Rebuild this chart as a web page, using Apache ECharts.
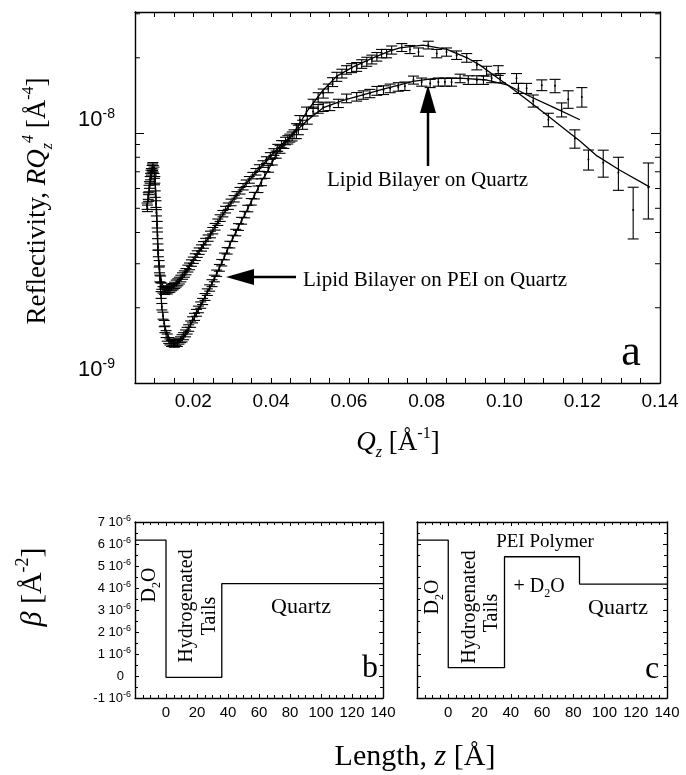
<!DOCTYPE html>
<html>
<head>
<meta charset="utf-8">
<script src="https://cdn.jsdelivr.net/npm/echarts@6/dist/echarts.min.js"></script>
<style>
  html, body { margin: 0; padding: 0; background: #fff; }
  #chart { width: 686px; height: 775px; }
</style>
</head>
<body>
<div id="chart"></div>
<script>
// ---- Reflectivity data: [Qz (1/Å), R·Qz^4 (1e-9 Å^-4), error (1e-9 Å^-4)] ----
const peiOnQuartz = [
  [0.0081, 5.1, 0.15], [0.0084, 5.6, 0.17], [0.0086, 6.0, 0.18], [0.0089, 6.5, 0.2],
  [0.0091, 6.9, 0.2], [0.0094, 7.2, 0.22], [0.0096, 7.4, 0.22], [0.0099, 7.1, 0.21],
  [0.0101, 6.5, 0.2], [0.0104, 5.2, 0.16], [0.0107, 4.3, 0.13], [0.0109, 3.5, 0.1],
  [0.0112, 3.0, 0.09], [0.0114, 2.62, 0.08], [0.0117, 2.25, 0.07], [0.0119, 2.02, 0.06],
  [0.0122, 1.86, 0.06], [0.0125, 1.73, 0.05], [0.0127, 1.64, 0.05], [0.0130, 1.57, 0.05],
  [0.0133, 1.52, 0.05], [0.0137, 1.48, 0.04], [0.0140, 1.46, 0.04], [0.0144, 1.44, 0.04],
  [0.0148, 1.45, 0.04], [0.0151, 1.43, 0.04], [0.0155, 1.45, 0.04], [0.0159, 1.44, 0.04],
  [0.0163, 1.47, 0.04], [0.0167, 1.49, 0.04], [0.0171, 1.51, 0.05], [0.0175, 1.54, 0.05],
  [0.0180, 1.58, 0.05], [0.0184, 1.62, 0.05], [0.0188, 1.66, 0.05], [0.0193, 1.72, 0.05],
  [0.0198, 1.79, 0.05], [0.0203, 1.84, 0.06], [0.0208, 1.91, 0.06], [0.0213, 1.97, 0.06],
  [0.0219, 2.05, 0.06], [0.0224, 2.12, 0.06], [0.0230, 2.21, 0.07], [0.0236, 2.31, 0.07],
  [0.0242, 2.40, 0.07], [0.0248, 2.51, 0.08], [0.0254, 2.62, 0.08], [0.0260, 2.75, 0.08],
  [0.0267, 2.89, 0.09], [0.0273, 3.03, 0.09], [0.0280, 3.21, 0.1], [0.0287, 3.38, 0.1],
  [0.0294, 3.58, 0.11], [0.0301, 3.79, 0.11], [0.0309, 4.0, 0.12], [0.0316, 4.21, 0.13],
  [0.0324, 4.46, 0.14], [0.0332, 4.72, 0.14], [0.0340, 4.99, 0.15], [0.0349, 5.31, 0.16],
  [0.0357, 5.62, 0.17], [0.0366, 5.96, 0.18], [0.0375, 6.36, 0.2], [0.0384, 6.8, 0.21],
  [0.0393, 7.2, 0.23], [0.0403, 7.7, 0.25], [0.0413, 8.2, 0.27], [0.0423, 8.6, 0.3],
  [0.0433, 9.0, 0.32], [0.0443, 9.4, 0.36], [0.0454, 9.7, 0.4], [0.0465, 10.2, 0.7],
  [0.0474, 11.3, 0.45], [0.0491, 12.2, 0.5], [0.0508, 13.1, 0.55], [0.0521, 13.9, 0.6],
  [0.0534, 14.4, 0.6], [0.0547, 15.1, 0.6], [0.0558, 16.0, 0.65], [0.0569, 16.8, 0.7],
  [0.0582, 17.3, 0.7], [0.0594, 17.9, 0.7], [0.0607, 18.2, 0.75], [0.0620, 18.4, 0.75],
  [0.0633, 18.9, 0.75], [0.0646, 19.3, 0.8], [0.0659, 19.7, 0.8], [0.0672, 20.2, 0.8],
  [0.0684, 20.8, 0.8], [0.0697, 20.8, 0.8], [0.0710, 21.5, 0.8], [0.0736, 22.0, 0.8],
  [0.0757, 21.6, 0.8], [0.0779, 21.1, 0.8], [0.0804, 22.5, 0.8], [0.0826, 20.8, 0.8],
  [0.0851, 21.1, 0.8], [0.0877, 20.5, 0.8], [0.0903, 20.0, 0.8], [0.0929, 18.7, 0.8],
  [0.0954, 17.7, 0.8], [0.0984, 17.8, 0.8], [0.1036, 15.1, 0.7], [0.1074, 13.45, 0.75],
  [0.1113, 11.3, 0.7], [0.1147, 12.4, 0.8], [0.1181, 9.5, 0.8], [0.1216, 7.83, 0.72],
  [0.1254, 7.6, 0.94], [0.1293, 6.95, 1.05], [0.1331, 4.92, 1.15], [0.1370, 6.06, 1.53]
];

const bilayerOnQuartz = [
  [0.0082, 5.0, 0.15], [0.0085, 5.5, 0.17], [0.0087, 6.2, 0.19], [0.0090, 6.7, 0.2],
  [0.0092, 7.0, 0.21], [0.0095, 7.3, 0.22], [0.0097, 7.2, 0.22], [0.0100, 6.4, 0.19],
  [0.0102, 5.7, 0.17], [0.0105, 4.8, 0.14], [0.0108, 3.9, 0.12], [0.0110, 3.3, 0.1],
  [0.0113, 2.85, 0.09], [0.0116, 2.6, 0.08], [0.0119, 2.44, 0.07], [0.0122, 2.36, 0.07],
  [0.0126, 2.33, 0.07], [0.0129, 2.36, 0.07], [0.0133, 2.34, 0.07], [0.0137, 2.37, 0.07],
  [0.0140, 2.38, 0.07], [0.0144, 2.41, 0.07], [0.0148, 2.43, 0.07], [0.0152, 2.46, 0.07],
  [0.0156, 2.5, 0.08], [0.0160, 2.53, 0.08], [0.0164, 2.57, 0.08], [0.0168, 2.62, 0.08],
  [0.0172, 2.68, 0.08], [0.0177, 2.73, 0.08], [0.0181, 2.79, 0.08], [0.0186, 2.87, 0.09],
  [0.0190, 2.93, 0.09], [0.0195, 3.02, 0.09], [0.0200, 3.1, 0.09], [0.0205, 3.19, 0.1],
  [0.0210, 3.28, 0.1], [0.0215, 3.37, 0.1], [0.0221, 3.47, 0.1], [0.0226, 3.57, 0.11],
  [0.0232, 3.68, 0.11], [0.0238, 3.8, 0.11], [0.0244, 3.93, 0.12], [0.0250, 4.07, 0.12],
  [0.0256, 4.22, 0.13], [0.0263, 4.4, 0.13], [0.0269, 4.57, 0.14], [0.0276, 4.76, 0.14],
  [0.0283, 4.94, 0.15], [0.0290, 5.1, 0.15], [0.0297, 5.28, 0.16], [0.0305, 5.46, 0.16],
  [0.0312, 5.66, 0.17], [0.0320, 5.88, 0.18], [0.0328, 6.1, 0.18], [0.0336, 6.3, 0.19],
  [0.0344, 6.5, 0.2], [0.0353, 6.76, 0.2], [0.0361, 7.0, 0.21], [0.0370, 7.25, 0.22],
  [0.0379, 7.52, 0.23], [0.0388, 7.8, 0.24], [0.0398, 8.1, 0.25], [0.0407, 8.4, 0.26],
  [0.0417, 8.73, 0.28], [0.0427, 9.03, 0.3], [0.0437, 9.3, 0.32], [0.0448, 9.55, 0.35],
  [0.0459, 9.9, 0.4], [0.0470, 10.3, 0.45], [0.0481, 10.8, 0.45], [0.0493, 11.3, 0.45],
  [0.0508, 12.2, 0.5], [0.0521, 12.5, 0.5], [0.0534, 12.7, 0.5], [0.0551, 12.8, 0.5],
  [0.0573, 13.15, 0.5], [0.0594, 13.77, 0.55], [0.0620, 13.97, 0.55], [0.0637, 14.2, 0.55],
  [0.0654, 14.4, 0.55], [0.0672, 14.76, 0.6], [0.0689, 14.86, 0.6], [0.0706, 15.1, 0.6],
  [0.0727, 15.3, 0.6], [0.0744, 15.4, 0.6], [0.0766, 16.3, 0.6], [0.0787, 16.0, 0.6],
  [0.0809, 15.8, 0.6], [0.0830, 16.0, 0.6], [0.0847, 16.0, 0.6], [0.0864, 16.0, 0.6],
  [0.0886, 16.55, 0.65], [0.0907, 16.3, 0.65], [0.0929, 16.3, 0.65], [0.0946, 16.3, 0.65],
  [0.0967, 16.55, 0.65], [0.0989, 16.6, 0.7], [0.1031, 16.55, 0.75], [0.1057, 15.1, 0.7],
  [0.1096, 15.55, 0.77], [0.1130, 15.45, 0.95], [0.1164, 13.66, 1.1], [0.1199, 13.95, 1.25]
];

// ---- Model fits: [Qz, R·Qz^4 (1e-9 Å^-4)] ----
const peiFit = [
  [0.0081, 5.15], [0.0089, 6.3], [0.0094, 7.1], [0.0097, 7.45], [0.0100, 7.2], [0.0104, 5.5],
  [0.0107, 4.2], [0.0109, 3.3], [0.0114, 2.62], [0.0119, 2.0], [0.0127, 1.67], [0.0140, 1.49],
  [0.0153, 1.445], [0.0171, 1.49], [0.0186, 1.63], [0.0209, 1.91], [0.0235, 2.29], [0.0256, 2.65],
  [0.0276, 3.1], [0.0299, 3.73], [0.0325, 4.49], [0.0351, 5.4], [0.0377, 6.49], [0.0389, 6.95],
  [0.0415, 8.3], [0.0441, 9.3], [0.0467, 10.5], [0.0492, 12.2], [0.0533, 14.8], [0.0569, 16.9],
  [0.0611, 18.4], [0.0662, 20.0], [0.0706, 21.3], [0.0731, 21.9], [0.0791, 22.5], [0.0852, 21.6],
  [0.0904, 20.0], [0.0937, 18.7], [0.0971, 17.1], [0.1007, 15.6], [0.1058, 13.6], [0.1109, 11.8],
  [0.1161, 10.2], [0.1194, 9.3], [0.1238, 8.1], [0.1297, 7.1], [0.1374, 6.08]
];
const quartzFit = [
  [0.0081, 5.05], [0.0089, 6.3], [0.0094, 7.1], [0.0097, 7.45], [0.0100, 7.2], [0.0104, 5.5],
  [0.0107, 4.2], [0.0109, 3.4], [0.0114, 2.75], [0.0120, 2.48], [0.0132, 2.38], [0.0148, 2.42],
  [0.0166, 2.58], [0.0184, 2.83], [0.0199, 3.1], [0.0217, 3.4], [0.0235, 3.73], [0.0251, 4.09],
  [0.0269, 4.55], [0.0287, 5.0], [0.0302, 5.4], [0.0325, 6.0], [0.0346, 6.55], [0.0364, 7.05],
  [0.0405, 8.3], [0.0431, 9.1], [0.0456, 9.9], [0.0492, 11.2], [0.0533, 12.6], [0.0585, 13.5],
  [0.0636, 14.2], [0.0688, 15.0], [0.0731, 15.6], [0.0765, 16.1], [0.0816, 16.5], [0.0886, 16.6],
  [0.0955, 16.3], [0.1007, 15.6], [0.1066, 14.0], [0.1125, 12.7], [0.1194, 11.3]
];

// ---- Scattering length density profiles (SLD in 1e-6 Å^-2, z in Å) ----
const zBilayer = [-20, 0, 36, 140];
const sldBilayer = [6.18, -0.06, 4.2, 4.2];
const zCushion = [-20, 0, 36, 84, 140];
const sldCushion = [6.18, 0.38, 5.42, 4.18, 4.18];

// ---- Axis extents and tick values ----
const qRange = [0.005, 0.14];
const rRange = [1e-9, 3.05e-8];
const R_UNIT = 1e-9;
const rMinorTicks = [2, 3, 4, 5, 6, 7, 8, 9, 20, 30];
const zRange = [-20, 140];
const sldRange = [-1, 7];

const SANS = '"Liberation Sans", Arial, Helvetica, sans-serif';
const SERIF = '"Liberation Serif", "Times New Roman", Times, serif';
const INK = '#000';

const chart = echarts.init(document.getElementById('chart'), null, { renderer: 'canvas' });

function errorBarItem(params, api) {
  const q = api.value(0), v = api.value(1), e = api.value(2);
  const c = api.coord([q, v]);
  const hi = api.coord([q, v + e]);
  const lo = api.coord([q, v - e]);
  const w = 5.5;
  const st = { stroke: INK, lineWidth: 1.1 };
  return {
    type: 'group',
    children: [
      { type: 'line', shape: { x1: c[0], y1: hi[1], x2: c[0], y2: lo[1] }, style: st },
      { type: 'line', shape: { x1: c[0] - w, y1: hi[1], x2: c[0] + w, y2: hi[1] }, style: st },
      { type: 'line', shape: { x1: c[0] - w, y1: lo[1], x2: c[0] + w, y2: lo[1] }, style: st },
      { type: 'circle', shape: { cx: c[0], cy: c[1], r: 1 }, style: { fill: INK } }
    ]
  };
}

function minorTickItem(params, api) {
  const v = api.value(1);
  const L = api.coord([qRange[0], v]);
  const R = api.coord([qRange[1], v]);
  const st = { stroke: INK, lineWidth: 1 };
  return {
    type: 'group',
    children: [
      { type: 'line', shape: { x1: L[0], y1: L[1], x2: L[0] + 5, y2: L[1] }, style: st },
      { type: 'line', shape: { x1: R[0] - 5, y1: R[1], x2: R[0], y2: R[1] }, style: st }
    ]
  };
}

const frameLine = { show: true, onZero: false, lineStyle: { color: INK, width: 1.4 } };

function qAxis(position, labels) {
  return {
    gridIndex: 0, type: 'value', position: position,
    min: qRange[0], max: qRange[1], interval: 0.005,
    axisLine: frameLine,
    axisTick: { show: true, inside: true, length: 5, lineStyle: { color: INK, width: 1 } },
    splitLine: { show: false },
    axisLabel: {
      show: labels, color: INK, fontSize: 19, fontFamily: SANS, margin: 9,
      formatter: function (v) {
        const k = Math.round(v * 1000);
        return (k % 20 === 0) ? (k / 1000).toFixed(2) : '';
      }
    }
  };
}

function rAxis(position, labels) {
  return {
    gridIndex: 0, type: 'log', logBase: 10, position: position,
    min: rRange[0], max: rRange[1],
    axisLine: frameLine,
    axisTick: { show: true, inside: true, length: 9, lineStyle: { color: INK, width: 1 } },
    splitLine: { show: false },
    minorTick: { show: false },
    axisLabel: {
      show: labels, margin: 20, verticalAlign: 'bottom',
      formatter: function (v) {
        const e = Math.log10(v);
        const r = Math.round(e);
        if (Math.abs(e - r) > 1e-6) return '';
        return '{b|10}{s|' + r + '}';
      },
      rich: {
        b: { fontSize: 22, fontFamily: SANS, color: INK, lineHeight: 26 },
        s: { fontSize: 14, fontFamily: SANS, color: INK, verticalAlign: 'top', lineHeight: 14 }
      }
    }
  };
}

function zAxis(grid, position, labels) {
  return {
    gridIndex: grid, type: 'value', position: position,
    min: zRange[0], max: zRange[1], interval: 20,
    axisLine: frameLine,
    axisTick: { show: true, inside: true, length: 4, lineStyle: { color: INK, width: 1 } },
    minorTick: { show: true, splitNumber: 4, length: 3, lineStyle: { color: INK, width: 1 } },
    splitLine: { show: false },
    axisLabel: {
      show: labels, color: INK, fontSize: 15, fontFamily: SANS, margin: 7,
      formatter: function (v) { return v < 0 ? '' : String(Math.round(v)); }
    }
  };
}

function sldAxis(grid, position, labels) {
  return {
    gridIndex: grid, type: 'value', position: position,
    min: sldRange[0], max: sldRange[1], interval: 1,
    axisLine: frameLine,
    axisTick: { show: true, inside: true, length: 4, lineStyle: { color: INK, width: 1 } },
    minorTick: { show: true, splitNumber: 2, length: 3, lineStyle: { color: INK, width: 1 } },
    splitLine: { show: false },
    axisLabel: {
      show: labels, margin: 4,
      formatter: function (v) {
        const n = Math.round(v);
        if (n === 0) return '{z|0}';
        return '{n|' + n + ' 10}{s|-6}';
      },
      rich: {
        n: { fontSize: 13, fontFamily: SANS, color: INK, lineHeight: 16 },
        s: { fontSize: 9, fontFamily: SANS, color: INK, verticalAlign: 'top', lineHeight: 9 },
        z: { fontSize: 13, fontFamily: SANS, color: INK, lineHeight: 16, padding: [0, 7, 0, 0] }
      }
    }
  };
}

function scaled(rows) { return rows.map(function (p) { return p.length > 2 ? [p[0], p[1] * R_UNIT, p[2] * R_UNIT] : [p[0], p[1] * R_UNIT]; }); }
function steps(z, s) { return z.map(function (zz, i) { return [zz, s[i]]; }); }

const fitStyle = { color: INK, width: 1.3 };

const option = {
  backgroundColor: '#fff',
  animation: false,
  grid: [
    { left: 135, top: 12, width: 525, height: 371 },
    { left: 135, top: 522, width: 248, height: 176 },
    { left: 417, top: 522, width: 250, height: 176 }
  ],
  xAxis: [
    qAxis('bottom', true), qAxis('top', false),
    zAxis(1, 'bottom', true), zAxis(1, 'top', false),
    zAxis(2, 'bottom', true), zAxis(2, 'top', false)
  ],
  yAxis: [
    rAxis('left', true), rAxis('right', false),
    sldAxis(1, 'left', true), sldAxis(1, 'right', false),
    sldAxis(2, 'left', false), sldAxis(2, 'right', false)
  ],
  series: [
    {
      name: 'Lipid Bilayer on PEI on Quartz', type: 'custom', xAxisIndex: 0, yAxisIndex: 0,
      renderItem: errorBarItem, data: scaled(peiOnQuartz), encode: { x: 0, y: 1 }, clip: true, z: 3
    },
    {
      name: 'Lipid Bilayer on Quartz', type: 'custom', xAxisIndex: 0, yAxisIndex: 0,
      renderItem: errorBarItem, data: scaled(bilayerOnQuartz), encode: { x: 0, y: 1 }, clip: true, z: 3
    },
    {
      name: 'PEI fit', type: 'line', xAxisIndex: 0, yAxisIndex: 0, data: scaled(peiFit),
      showSymbol: false, symbol: 'none', lineStyle: fitStyle, z: 4
    },
    {
      name: 'Quartz fit', type: 'line', xAxisIndex: 0, yAxisIndex: 0, data: scaled(quartzFit),
      showSymbol: false, symbol: 'none', lineStyle: fitStyle, z: 4
    },
    {
      name: 'minor ticks', type: 'custom', xAxisIndex: 0, yAxisIndex: 0,
      renderItem: minorTickItem, data: rMinorTicks.map(function (t) { return [qRange[0], t * R_UNIT]; }),
      encode: { x: 0, y: 1 }, clip: false, silent: true
    },
    {
      name: 'Bilayer profile', type: 'line', xAxisIndex: 2, yAxisIndex: 2, step: 'end',
      data: steps(zBilayer, sldBilayer), showSymbol: false, symbol: 'none', lineStyle: { color: INK, width: 1.3 }
    },
    {
      name: 'Cushion profile', type: 'line', xAxisIndex: 4, yAxisIndex: 4, step: 'end',
      data: steps(zCushion, sldCushion), showSymbol: false, symbol: 'none', lineStyle: { color: INK, width: 1.3 }
    }
  ]
};
chart.setOption(option);

// ---- Titles, labels and arrows ----
function text(x, y, str, font, opts) {
  opts = opts || {};
  return {
    type: 'text', x: x, y: y, rotation: opts.rotation || 0, silent: true,
    style: {
      text: str, font: font, fill: INK,
      align: opts.align || 'center', verticalAlign: 'middle',
      lineHeight: opts.lineHeight, rich: opts.rich
    }
  };
}
function richSet(size) {
  const small = Math.round(size * 0.6);
  return {
    i: { font: 'italic ' + size + 'px ' + SERIF, fill: INK, lineHeight: size + 8 },
    sub: { font: 'italic ' + small + 'px ' + SERIF, fill: INK, verticalAlign: 'bottom', lineHeight: small },
    subr: { font: small + 'px ' + SERIF, fill: INK, verticalAlign: 'bottom', lineHeight: small },
    sup: { font: small + 'px ' + SERIF, fill: INK, verticalAlign: 'top', lineHeight: small },
    supi: { font: 'italic ' + small + 'px ' + SERIF, fill: INK, verticalAlign: 'top', lineHeight: small }
  };
}
const UP = Math.PI / 2;

const graphics = [
  text(38, 201, 'Reflectivity, {i|RQ}{sub|z}{supi|4} [Å{sup|-4}]', '27px ' + SERIF,
    { rotation: UP, rich: richSet(27), lineHeight: 35 }),
  text(398, 443, '{i|Q}{sub|z} [Å{sup|-1}]', '27px ' + SERIF, { rich: richSet(27), lineHeight: 35 }),
  text(327, 180, 'Lipid Bilayer on Quartz', '21px ' + SERIF, { align: 'left' }),
  text(303, 280, 'Lipid Bilayer on PEI on Quartz', '21px ' + SERIF, { align: 'left' }),
  text(631, 353, 'a', '44px ' + SERIF),
  text(33, 587, '{i|β} [Å{sup|-2}]', '30px ' + SERIF, { rotation: UP, rich: richSet(30), lineHeight: 38 }),
  text(415, 757, 'Length, {i|z} [Å]', '30px ' + SERIF, { rich: richSet(30), lineHeight: 38 }),
  // panel b
  text(150, 585, 'D{subr|2}O', '20px ' + SERIF, { rotation: UP, rich: richSet(20), lineHeight: 26 }),
  text(187, 606, 'Hydrogenated', '20px ' + SERIF, { rotation: UP }),
  text(210, 616, 'Tails', '20px ' + SERIF, { rotation: UP }),
  text(301, 607, 'Quartz', '22px ' + SERIF),
  text(370, 669, 'b', '32px ' + SERIF),
  // panel c
  text(545, 542, 'PEI Polymer', '19px ' + SERIF),
  text(539, 587, '+ D{subr|2}O', '20px ' + SERIF, { rich: richSet(20), lineHeight: 26 }),
  text(433, 597, 'D{subr|2}O', '20px ' + SERIF, { rotation: UP, rich: richSet(20), lineHeight: 26 }),
  text(470, 607, 'Hydrogenated', '20px ' + SERIF, { rotation: UP }),
  text(492, 613, 'Tails', '20px ' + SERIF, { rotation: UP }),
  text(618, 608, 'Quartz', '22px ' + SERIF),
  text(652, 670, 'c', '32px ' + SERIF),
  // arrows
  { type: 'polygon', silent: true, shape: { points: [[428, 85], [420, 113], [436, 113]] }, style: { fill: INK } },
  { type: 'line', silent: true, shape: { x1: 428, y1: 112, x2: 428, y2: 166 }, style: { stroke: INK, lineWidth: 2.5 } },
  { type: 'polygon', silent: true, shape: { points: [[226, 277], [254, 269], [254, 285]] }, style: { fill: INK } },
  { type: 'line', silent: true, shape: { x1: 253, y1: 277, x2: 296, y2: 277 }, style: { stroke: INK, lineWidth: 2.5 } }
];
chart.setOption({ graphic: graphics });
</script>
</body>
</html>
